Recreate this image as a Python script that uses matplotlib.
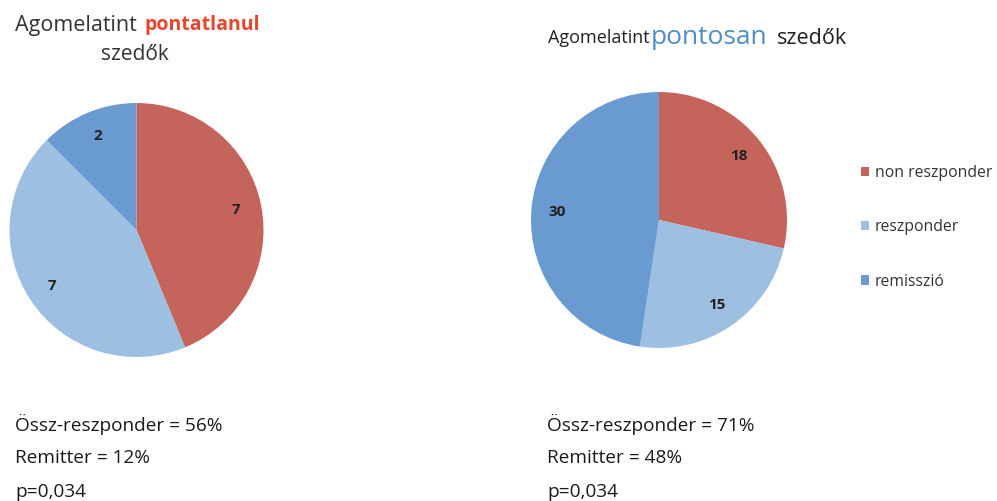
import matplotlib
matplotlib.use("Agg")
from matplotlib import pyplot as plt

# data
categories = ["non reszponder", "reszponder", "remisszió"]
pontatlanul = [7, 7, 2]
pontosan = [18, 15, 30]
colors = ["#C4645B", "#9DBFE2", "#6A9BD0"]

stats_left = ["Össz-reszponder = 56%", "Remitter = 12%", "p=0,034"]
stats_right = ["Össz-reszponder = 71%", "Remitter = 48%", "p=0,034"]

W, H = 997, 501
fig = plt.figure(figsize=(W / 100, H / 100), dpi=100)

def px(x, y):
    # pixel position (from top-left) -> figure fraction
    return x / W, 1 - y / H

def pie_axes(cx, cy, r):
    ax = fig.add_axes([(cx - r) / W, (H - cy - r) / H, 2 * r / W, 2 * r / H])
    ax.set_xlim(-1, 1)
    ax.set_ylim(-1, 1)
    ax.set_aspect("equal")
    ax.axis("off")
    return ax

def draw_pie(ax, values):
    wedges, texts = ax.pie(values, colors=colors, startangle=90, counterclock=False,
                           labels=[str(v) for v in values], labeldistance=0.8,
                           radius=1, frame=False,
                           textprops=dict(fontsize=11, color="#222222", fontweight="bold",
                                          family="Open Sans"),
                           wedgeprops=dict(linewidth=0))
    for t in texts:
        t.set_ha("center")
        t.set_va("center")
    ax.set_xlim(-1, 1)
    ax.set_ylim(-1, 1)
    return wedges

ax1 = pie_axes(136.5, 230, 127)
draw_pie(ax1, pontatlanul)

ax2 = pie_axes(659, 220, 128)
wedges = draw_pie(ax2, pontosan)

# titles
tfont = "Open Sans"
fig.text(*px(15, 25), "Agomelatint", fontsize=15.5, color="#333333", family=tfont, va="center")
fig.text(*px(144, 25), "pontatlanul", fontsize=14, color="#E8452E", family=tfont,
         fontweight="bold", va="center")
fig.text(*px(135, 54), "szedők", fontsize=15, color="#333333", family=tfont, va="center", ha="center")

fig.text(*px(548, 38), "Agomelatint", fontsize=13, color="#222222", family=tfont, va="center")
fig.text(*px(651, 37), "pontosan", fontsize=19, color="#4E8EC8", family=tfont, va="center")
fig.text(*px(777, 38), "szedők", fontsize=15.5, color="#222222", family=tfont, va="center")

# legend
fig.legend(wedges, categories, loc="upper left", bbox_to_anchor=px(853, 157),
           frameon=False, prop=dict(family=tfont, size=11.3),
           handlelength=0.55, handleheight=0.55, handletextpad=0.35, labelspacing=2.45,
           borderpad=0, labelcolor="#333333")

# stats below
for i, (a, b) in enumerate(zip(stats_left, stats_right)):
    y = 424 + i * 34
    fig.text(*px(15, y), a, fontsize=13.7, color="#1a1a1a", family=tfont, va="center")
    fig.text(*px(547, y), b, fontsize=13.7, color="#1a1a1a", family=tfont, va="center")

fig.savefig("out.png", dpi=100)
